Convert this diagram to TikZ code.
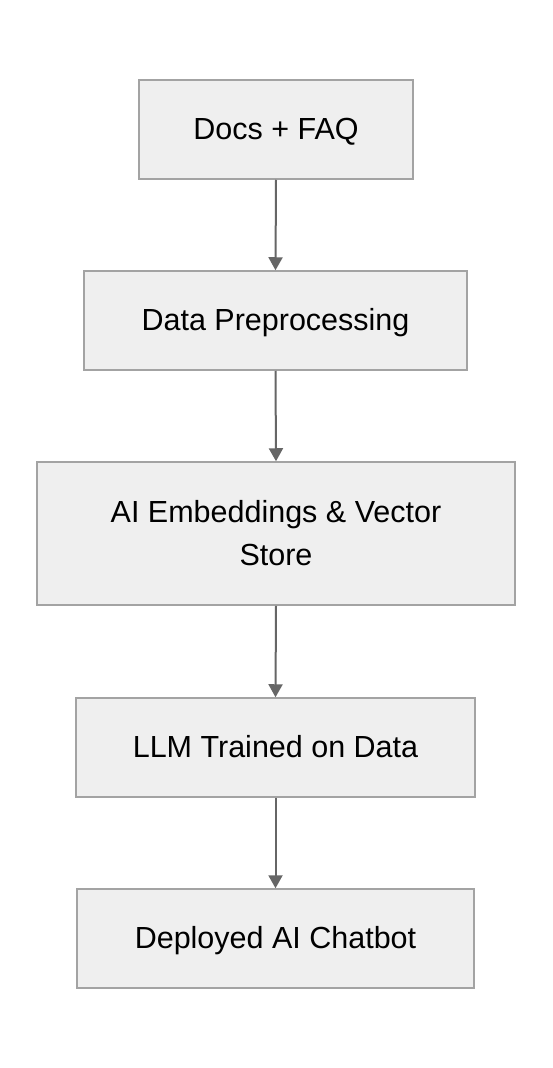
\documentclass[tikz,border=0pt]{standalone}
\usepackage{fontspec}
\setmainfont{Liberation Sans}
\usetikzlibrary{arrows.meta}
\definecolor{boxfill}{HTML}{EFEFEF}
\definecolor{boxline}{HTML}{A3A3A3}
\definecolor{arrowc}{HTML}{666666}
\begin{document}
\begin{tikzpicture}[x=1pt,y=-1pt,
  stepbox/.style={draw=boxline, fill=boxfill, line width=1.5pt, inner sep=0pt},
  txt/.style={inner sep=0pt, anchor=base, font=\fontsize{30.5}{44}\selectfont, text=black},
  conn/.style={draw=arrowc, line width=2pt, -{Triangle[length=13pt,width=14pt]}}]
\useasboundingbox (0,0) rectangle (552,1068);
\fill[white] (0,0) rectangle (552,1068);
\node[stepbox, minimum width=274pt, minimum height=99pt] (a) at (276,129.5) {};
\node[stepbox, minimum width=383pt, minimum height=99pt] (b) at (275.5,320.5) {};
\node[stepbox, minimum width=478pt, minimum height=143pt] (c) at (276,533.5) {};
\node[stepbox, minimum width=399pt, minimum height=99pt] (d) at (275.5,747.5) {};
\node[stepbox, minimum width=397pt, minimum height=99pt] (e) at (275.5,938.5) {};
\node[txt] (ta) at ([yshift=-10pt]a.center) {Docs + FAQ};
\node[txt] (tb) at ([yshift=-10pt]b.center) {Data Preprocessing};
\node[txt] (tc1) at ([yshift=11.5pt]c.center) {AI Embeddings \& Vector};
\node[txt] (tc2) at ([yshift=-32pt]c.center) {Store};
\node[txt] (td) at ([yshift=-10pt]d.center) {LLM Trained on Data};
\node[txt] (te) at ([yshift=-10pt]e.center) {Deployed AI Chatbot};
\draw[conn] (a.south) -- (b.north);
\draw[conn] (b.south) -- (c.north);
\draw[conn] (c.south) -- (d.north);
\draw[conn] (d.south) -- (e.north);
\end{tikzpicture}
\end{document}
